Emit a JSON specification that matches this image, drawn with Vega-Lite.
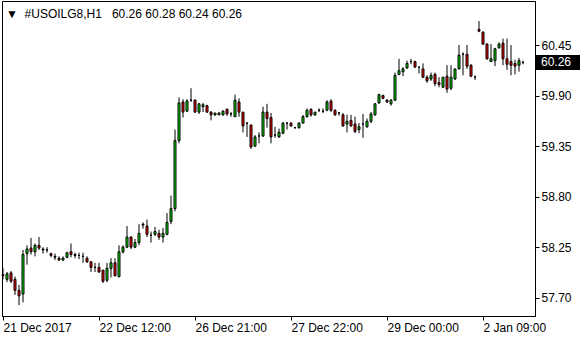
{
  "$schema": "https://vega.github.io/schema/vega-lite/v6.json",
  "width": 533,
  "height": 315,
  "autosize": {"type": "none"},
  "padding": {"left": 2, "top": 1, "right": 45, "bottom": 24},
  "background": "white",
  "title": {"text": "▼\u00a0\u00a0#USOILG8,H1\u00a0\u00a0\u00a060.26 60.28 60.24 60.26", "anchor": "start", "frame": "group", "offset": -25, "baseline": "middle", "dx": 4, "fontSize": 12, "fontWeight": "normal", "font": "Liberation Sans", "color": "black"},
  "data": {"values": [
    {"bar":0,"open":57.95,"high":58.02,"low":57.90,"close":57.94},
    {"bar":1,"open":57.90,"high":57.98,"low":57.87,"close":57.96},
    {"bar":2,"open":57.97,"high":57.99,"low":57.86,"close":57.88},
    {"bar":3,"open":57.90,"high":57.93,"low":57.73,"close":57.78},
    {"bar":4,"open":57.78,"high":57.84,"low":57.62,"close":57.72},
    {"bar":5,"open":57.74,"high":58.22,"low":57.65,"close":58.17},
    {"bar":6,"open":58.18,"high":58.27,"low":58.06,"close":58.23},
    {"bar":7,"open":58.24,"high":58.35,"low":58.17,"close":58.20},
    {"bar":8,"open":58.20,"high":58.29,"low":58.15,"close":58.27},
    {"bar":9,"open":58.27,"high":58.36,"low":58.22,"close":58.24},
    {"bar":10,"open":58.23,"high":58.25,"low":58.18,"close":58.22},
    {"bar":11,"open":58.22,"high":58.25,"low":58.19,"close":58.22},
    {"bar":12,"open":58.18,"high":58.19,"low":58.14,"close":58.16},
    {"bar":13,"open":58.15,"high":58.18,"low":58.11,"close":58.14},
    {"bar":14,"open":58.13,"high":58.15,"low":58.10,"close":58.11},
    {"bar":15,"open":58.11,"high":58.15,"low":58.10,"close":58.13},
    {"bar":16,"open":58.14,"high":58.20,"low":58.13,"close":58.19},
    {"bar":17,"open":58.20,"high":58.29,"low":58.14,"close":58.17},
    {"bar":18,"open":58.17,"high":58.19,"low":58.13,"close":58.16},
    {"bar":19,"open":58.16,"high":58.19,"low":58.12,"close":58.16},
    {"bar":20,"open":58.15,"high":58.19,"low":58.08,"close":58.15},
    {"bar":21,"open":58.13,"high":58.15,"low":58.08,"close":58.09},
    {"bar":22,"open":58.09,"high":58.10,"low":57.98,"close":58.03},
    {"bar":23,"open":58.03,"high":58.08,"low":57.98,"close":58.03},
    {"bar":24,"open":58.03,"high":58.08,"low":57.97,"close":57.98},
    {"bar":25,"open":58.00,"high":58.00,"low":57.86,"close":57.88},
    {"bar":26,"open":57.89,"high":58.08,"low":57.87,"close":58.02},
    {"bar":27,"open":58.02,"high":58.13,"low":57.92,"close":58.08},
    {"bar":28,"open":58.08,"high":58.13,"low":57.93,"close":57.94},
    {"bar":29,"open":57.93,"high":58.27,"low":57.92,"close":58.20},
    {"bar":30,"open":58.20,"high":58.27,"low":58.18,"close":58.25},
    {"bar":31,"open":58.25,"high":58.48,"low":58.24,"close":58.36},
    {"bar":32,"open":58.36,"high":58.37,"low":58.23,"close":58.25},
    {"bar":33,"open":58.25,"high":58.34,"low":58.24,"close":58.30},
    {"bar":34,"open":58.30,"high":58.50,"low":58.27,"close":58.40},
    {"bar":35,"open":58.49,"high":58.52,"low":58.45,"close":58.50},
    {"bar":36,"open":58.48,"high":58.55,"low":58.36,"close":58.39},
    {"bar":37,"open":58.38,"high":58.42,"low":58.30,"close":58.38},
    {"bar":38,"open":58.39,"high":58.47,"low":58.37,"close":58.42},
    {"bar":39,"open":58.40,"high":58.44,"low":58.33,"close":58.36},
    {"bar":40,"open":58.36,"high":58.46,"low":58.30,"close":58.40},
    {"bar":41,"open":58.39,"high":58.62,"low":58.38,"close":58.52},
    {"bar":42,"open":58.53,"high":58.81,"low":58.50,"close":58.67},
    {"bar":43,"open":58.67,"high":59.53,"low":58.64,"close":59.41},
    {"bar":44,"open":59.41,"high":59.88,"low":59.38,"close":59.82},
    {"bar":45,"open":59.83,"high":59.86,"low":59.66,"close":59.72},
    {"bar":46,"open":59.73,"high":59.86,"low":59.72,"close":59.84},
    {"bar":47,"open":59.85,"high":59.98,"low":59.83,"close":59.85},
    {"bar":48,"open":59.85,"high":59.86,"low":59.71,"close":59.72},
    {"bar":49,"open":59.72,"high":59.82,"low":59.70,"close":59.81},
    {"bar":50,"open":59.78,"high":59.82,"low":59.72,"close":59.80},
    {"bar":51,"open":59.79,"high":59.80,"low":59.71,"close":59.72},
    {"bar":52,"open":59.72,"high":59.73,"low":59.63,"close":59.69},
    {"bar":53,"open":59.69,"high":59.71,"low":59.68,"close":59.71},
    {"bar":54,"open":59.69,"high":59.72,"low":59.69,"close":59.71},
    {"bar":55,"open":59.69,"high":59.74,"low":59.68,"close":59.73},
    {"bar":56,"open":59.75,"high":59.76,"low":59.68,"close":59.70},
    {"bar":57,"open":59.70,"high":59.72,"low":59.67,"close":59.70},
    {"bar":58,"open":59.67,"high":59.91,"low":59.67,"close":59.85},
    {"bar":59,"open":59.83,"high":59.87,"low":59.67,"close":59.72},
    {"bar":60,"open":59.72,"high":59.72,"low":59.50,"close":59.57},
    {"bar":61,"open":59.60,"high":59.61,"low":59.45,"close":59.60},
    {"bar":62,"open":59.58,"high":59.58,"low":59.32,"close":59.34},
    {"bar":63,"open":59.35,"high":59.47,"low":59.34,"close":59.45},
    {"bar":64,"open":59.46,"high":59.50,"low":59.38,"close":59.46},
    {"bar":65,"open":59.46,"high":59.78,"low":59.45,"close":59.72},
    {"bar":66,"open":59.72,"high":59.81,"low":59.55,"close":59.65},
    {"bar":67,"open":59.66,"high":59.71,"low":59.38,"close":59.45},
    {"bar":68,"open":59.47,"high":59.56,"low":59.44,"close":59.47},
    {"bar":69,"open":59.45,"high":59.54,"low":59.44,"close":59.50},
    {"bar":70,"open":59.49,"high":59.61,"low":59.48,"close":59.60},
    {"bar":71,"open":59.60,"high":59.61,"low":59.53,"close":59.60},
    {"bar":72,"open":59.60,"high":59.61,"low":59.56,"close":59.57},
    {"bar":73,"open":59.55,"high":59.56,"low":59.54,"close":59.55},
    {"bar":74,"open":59.55,"high":59.61,"low":59.54,"close":59.60},
    {"bar":75,"open":59.60,"high":59.69,"low":59.60,"close":59.67},
    {"bar":76,"open":59.67,"high":59.76,"low":59.66,"close":59.74},
    {"bar":77,"open":59.75,"high":59.76,"low":59.67,"close":59.69},
    {"bar":78,"open":59.69,"high":59.72,"low":59.68,"close":59.72},
    {"bar":79,"open":59.74,"high":59.76,"low":59.72,"close":59.74},
    {"bar":80,"open":59.73,"high":59.76,"low":59.71,"close":59.73},
    {"bar":81,"open":59.74,"high":59.85,"low":59.73,"close":59.83},
    {"bar":82,"open":59.84,"high":59.86,"low":59.72,"close":59.74},
    {"bar":83,"open":59.74,"high":59.75,"low":59.68,"close":59.69},
    {"bar":84,"open":59.71,"high":59.72,"low":59.68,"close":59.71},
    {"bar":85,"open":59.69,"high":59.71,"low":59.56,"close":59.57},
    {"bar":86,"open":59.59,"high":59.69,"low":59.50,"close":59.62},
    {"bar":87,"open":59.63,"high":59.69,"low":59.56,"close":59.57},
    {"bar":88,"open":59.59,"high":59.67,"low":59.49,"close":59.51},
    {"bar":89,"open":59.53,"high":59.60,"low":59.49,"close":59.56},
    {"bar":90,"open":59.59,"high":59.70,"low":59.44,"close":59.59},
    {"bar":91,"open":59.56,"high":59.65,"low":59.55,"close":59.62},
    {"bar":92,"open":59.62,"high":59.72,"low":59.60,"close":59.70},
    {"bar":93,"open":59.69,"high":59.82,"low":59.68,"close":59.81},
    {"bar":94,"open":59.82,"high":59.92,"low":59.81,"close":59.91},
    {"bar":95,"open":59.90,"high":59.91,"low":59.86,"close":59.87},
    {"bar":96,"open":59.85,"high":59.86,"low":59.82,"close":59.83},
    {"bar":97,"open":59.81,"high":59.86,"low":59.79,"close":59.85},
    {"bar":98,"open":59.85,"high":60.15,"low":59.84,"close":60.12},
    {"bar":99,"open":60.13,"high":60.30,"low":60.12,"close":60.17},
    {"bar":100,"open":60.16,"high":60.21,"low":60.11,"close":60.19},
    {"bar":101,"open":60.20,"high":60.28,"low":60.19,"close":60.25},
    {"bar":102,"open":60.27,"high":60.30,"low":60.24,"close":60.27},
    {"bar":103,"open":60.27,"high":60.28,"low":60.20,"close":60.21},
    {"bar":104,"open":60.21,"high":60.21,"low":60.14,"close":60.21},
    {"bar":105,"open":60.19,"high":60.25,"low":60.09,"close":60.10},
    {"bar":106,"open":60.10,"high":60.12,"low":60.04,"close":60.06},
    {"bar":107,"open":60.08,"high":60.15,"low":60.06,"close":60.12},
    {"bar":108,"open":60.13,"high":60.15,"low":60.00,"close":60.03},
    {"bar":109,"open":60.04,"high":60.10,"low":59.99,"close":60.02},
    {"bar":110,"open":59.99,"high":60.10,"low":59.99,"close":60.10},
    {"bar":111,"open":60.11,"high":60.23,"low":59.93,"close":59.97},
    {"bar":112,"open":59.98,"high":60.23,"low":59.96,"close":60.10},
    {"bar":113,"open":60.08,"high":60.19,"low":60.07,"close":60.19},
    {"bar":114,"open":60.19,"high":60.45,"low":60.19,"close":60.34},
    {"bar":115,"open":60.35,"high":60.37,"low":60.12,"close":60.35},
    {"bar":116,"open":60.35,"high":60.45,"low":60.19,"close":60.22},
    {"bar":117,"open":60.23,"high":60.24,"low":60.10,"close":60.11},
    {"bar":118,"open":60.10,"high":60.12,"low":60.07,"close":60.10},
    {"bar":119,"open":60.62,"high":60.71,"low":60.59,"close":60.60},
    {"bar":120,"open":60.59,"high":60.60,"low":60.45,"close":60.46},
    {"bar":121,"open":60.46,"high":60.47,"low":60.29,"close":60.30},
    {"bar":122,"open":60.27,"high":60.46,"low":60.27,"close":60.30},
    {"bar":123,"open":60.28,"high":60.42,"low":60.22,"close":60.41},
    {"bar":124,"open":60.42,"high":60.48,"low":60.41,"close":60.46},
    {"bar":125,"open":60.47,"high":60.52,"low":60.23,"close":60.30},
    {"bar":126,"open":60.30,"high":60.52,"low":60.18,"close":60.24},
    {"bar":127,"open":60.27,"high":60.45,"low":60.12,"close":60.23},
    {"bar":128,"open":60.25,"high":60.29,"low":60.13,"close":60.22},
    {"bar":129,"open":60.23,"high":60.31,"low":60.16,"close":60.28},
    {"bar":130,"open":60.26,"high":60.28,"low":60.24,"close":60.26}
  ]},
  "layer": [
    {
      "mark": {"type": "bar", "size": 2, "stroke": "black", "strokeWidth": 1},
      "encoding": {
        "x": {"field": "bar", "type": "quantitative", "scale": {"domain": [-0.25, 133], "nice": false, "zero": false, "padding": 0},
          "axis": {"orient": "bottom", "values": [0, 24, 48, 72, 96, 120], "labelExpr": "datum.value == 0 ? '21 Dec 2017' : datum.value == 24 ? '22 Dec 12:00' : datum.value == 48 ? '26 Dec 21:00' : datum.value == 72 ? '27 Dec 22:00' : datum.value == 96 ? '29 Dec 00:00' : '2 Jan 09:00'", "labelAlign": "left", "title": null}},
        "y": {"field": "open", "type": "quantitative", "scale": {"domain": [57.501, 60.929], "nice": false, "zero": false, "padding": 0},
          "axis": {"orient": "right", "values": [57.7, 58.25, 58.8, 59.35, 59.9, 60.45], "format": ".2f", "title": null}},
        "y2": {"field": "close"},
        "fill": {"condition": {"test": "datum.close > datum.open", "value": "#00e000"}, "value": "#ff0000"}
      }
    },
    {
      "transform": [{"filter": "datum.close >= datum.open"}],
      "layer": [
        {"mark": {"type": "rule", "color": "black", "strokeWidth": 1},
         "encoding": {"x": {"field": "bar", "type": "quantitative"}, "y": {"field": "high", "type": "quantitative"}, "y2": {"field": "close"}}},
        {"mark": {"type": "rule", "color": "black", "strokeWidth": 1},
         "encoding": {"x": {"field": "bar", "type": "quantitative"}, "y": {"field": "open", "type": "quantitative"}, "y2": {"field": "low"}}}
      ]
    },
    {
      "transform": [{"filter": "datum.close < datum.open"}],
      "layer": [
        {"mark": {"type": "rule", "color": "black", "strokeWidth": 1},
         "encoding": {"x": {"field": "bar", "type": "quantitative"}, "y": {"field": "high", "type": "quantitative"}, "y2": {"field": "open"}}},
        {"mark": {"type": "rule", "color": "black", "strokeWidth": 1},
         "encoding": {"x": {"field": "bar", "type": "quantitative"}, "y": {"field": "close", "type": "quantitative"}, "y2": {"field": "low"}}}
      ]
    },
    {
      "transform": [{"filter": "datum.bar == 130"}],
      "mark": {"type": "point", "shape": "M-1,-0.34L1,-0.34L1,0.34L-1,0.34Z", "filled": true, "fill": "black", "fillOpacity": 1, "opacity": 1, "strokeWidth": 0, "size": 1936, "x": {"expr": "width + 23"}},
      "encoding": {
        "y": {"field": "close", "type": "quantitative"}
      }
    },
    {
      "transform": [{"filter": "datum.bar == 130"}],
      "mark": {"type": "text", "color": "white", "align": "left", "baseline": "middle", "font": "Liberation Sans", "fontSize": 12, "x": {"expr": "width + 6"}},
      "encoding": {
        "y": {"field": "close", "type": "quantitative"},
        "text": {"field": "close", "type": "quantitative", "format": ".2f"}
      }
    }
  ],
  "config": {
    "view": {"stroke": "black", "strokeWidth": 1},
    "axis": {
      "grid": false,
      "domainColor": "black",
      "domainWidth": 1,
      "tickColor": "black",
      "tickSize": 4,
      "labelColor": "black",
      "labelFont": "Liberation Sans",
      "labelFontSize": 12,
      "labelPadding": 2,
      "labelOverlap": false,
      "labelFlush": false
    }
  }
}
